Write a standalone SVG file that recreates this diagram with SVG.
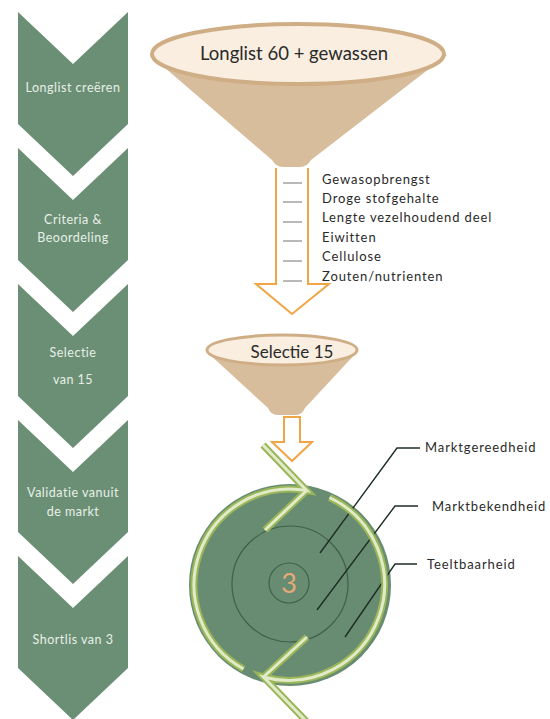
<svg xmlns="http://www.w3.org/2000/svg" width="550" height="719" viewBox="0 0 550 719">
<style>
.chev{fill:#6b8f75}
.ctext{font-family:Lato,"Liberation Sans",sans-serif;font-size:12.5px;fill:#e8efe8;text-anchor:middle;letter-spacing:0.5px}
.cone{fill:#d8bd9c}
.rim{fill:#f9eee0;stroke:#cfae86;stroke-width:4}
.ftext{font-family:Lato,"Liberation Sans",sans-serif;fill:#2a2a2a;text-anchor:middle}
.harrow{fill:#ffffff;stroke:#f0a546;stroke-width:2;stroke-linejoin:miter}
.dash{stroke:#8a8a8a;stroke-width:1.2}
.ltext{font-family:Lato,"Liberation Sans",sans-serif;font-size:13px;fill:#2a2a2a;letter-spacing:0.9px}
.ring{fill:none;stroke:#3e6048;stroke-width:1.2}
.lead{fill:none;stroke:#1e2e24;stroke-width:1.4}
.bandO{fill:none;stroke:#9ab65a;stroke-width:7}
.bandI{fill:none;stroke:#e2ebc8;stroke-width:3}
</style>

<g id="steps">
<g id="step1"><path class="chev" d="M18,12 L73,64 L128,12 L128,124 L73,176 L18,124 Z"/><text class="ctext" x="73" y="92">Longlist creëren</text></g>
<g id="step2"><path class="chev" d="M18,148 L73,200 L128,148 L128,260 L73,312 L18,260 Z"/><text class="ctext" x="73" y="224">Criteria &amp;</text><text class="ctext" x="73" y="242">Beoordeling</text></g>
<g id="step3"><path class="chev" d="M18,284 L73,336 L128,284 L128,396 L73,448 L18,396 Z"/><text class="ctext" x="73" y="357">Selectie</text><text class="ctext" x="73" y="384">van 15</text></g>
<g id="step4"><path class="chev" d="M18,420 L73,472 L128,420 L128,532 L73,584 L18,532 Z"/><text class="ctext" x="73" y="497">Validatie vanuit</text><text class="ctext" x="73" y="516">de markt</text></g>
<g id="step5"><path class="chev" d="M18,556 L73,608 L128,556 L128,668 L73,720 L18,668 Z"/><text class="ctext" x="73" y="644">Shortlis van 3</text></g>
</g>

<g id="funnel1">
<path class="cone" d="M150,55 L272,160 Q276,167 283,167 L300,167 Q307,167 311,160 L447,55 Z"/>
<ellipse class="rim" cx="298" cy="54" rx="146" ry="30"/>
<text class="ftext" x="294" y="60" font-size="18.5">Longlist 60 + gewassen</text>
</g>

<g id="criteria">
<path class="harrow" d="M276,168 L276,284 L256,284 L292,314 L329,284 L308,284 L308,168"/>
<g class="dash">
<line x1="283" y1="183" x2="302" y2="183"/>
<line x1="283" y1="202" x2="302" y2="202"/>
<line x1="283" y1="222" x2="302" y2="222"/>
<line x1="283" y1="241" x2="302" y2="241"/>
<line x1="283" y1="261" x2="302" y2="261"/>
<line x1="283" y1="281" x2="302" y2="281"/>
</g>
<text class="ltext" x="322" y="184">Gewasopbrengst</text>
<text class="ltext" x="322" y="203">Droge stofgehalte</text>
<text class="ltext" x="322" y="222">Lengte vezelhoudend deel</text>
<text class="ltext" x="322" y="242">Eiwitten</text>
<text class="ltext" x="322" y="261">Cellulose</text>
<text class="ltext" x="322" y="281">Zouten/nutrienten</text>
</g>

<g id="funnel2">
<path class="cone" d="M207,352 L268,408 Q271,415 277,415 L296,415 Q302,415 305,408 L357,352 Z"/>
<ellipse class="rim" cx="282" cy="350" rx="75" ry="15" style="stroke-width:3"/>
<text class="ftext" x="292" y="358" font-size="17">Selectie 15</text>
</g>

<g id="connectors">
<path class="harrow" d="M284,417 L284,442 L272,442 L292,461 L312,442 L300,442 L300,417 Z"/>
</g>

<g id="shortlist">
<circle cx="290" cy="585" r="101" fill="#688c71"/>
<circle class="ring" cx="290" cy="584" r="58"/>
<circle class="ring" cx="289" cy="583" r="20"/>
<text x="289" y="593" font-family="Lato,'Liberation Sans',sans-serif" font-size="27" fill="#e3aa78" text-anchor="middle">3</text>
<g id="leaders">
<polyline class="lead" points="320,553 397,448 420,448"/>
<polyline class="lead" points="317,610 395,506 418,506"/>
<polyline class="lead" points="345,637 395,564 417,564"/>
</g>
<path class="bandO" d="M263,445 L306.7,490.5 A96,96 0 0 0 243.5,669 M306.7,490.5 L265,530"/>
<path class="bandO" d="M307,722 L263.5,677 A96,96 0 0 0 329.5,497.5 M263.5,677 L307,637"/>
<path class="bandI" d="M263,445 L306.7,490.5 A96,96 0 0 0 243.5,669 M306.7,490.5 L265,530"/>
<path class="bandI" d="M307,722 L263.5,677 A96,96 0 0 0 329.5,497.5 M263.5,677 L307,637"/>
<text class="ltext" x="425" y="452">Marktgereedheid</text>
<text class="ltext" x="432" y="511">Marktbekendheid</text>
<text class="ltext" x="427" y="569">Teeltbaarheid</text>
</g>
</svg>
